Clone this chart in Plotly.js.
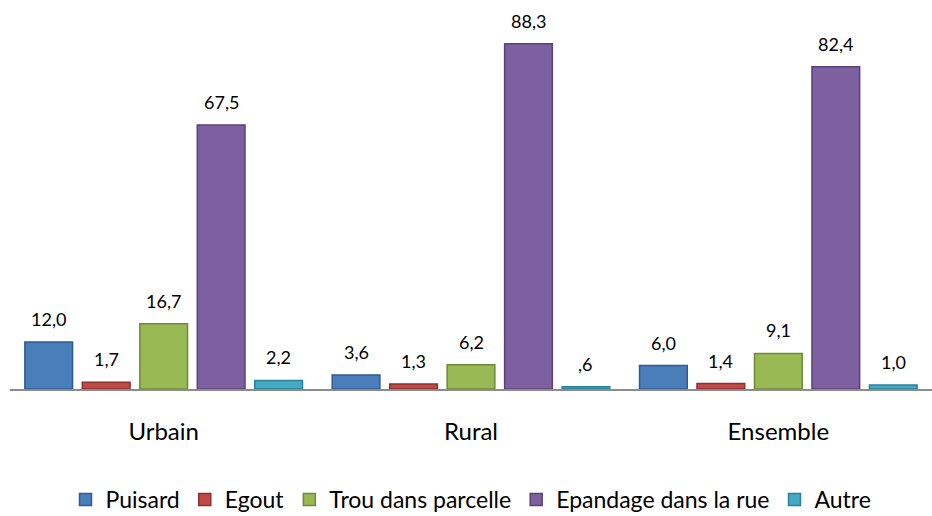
<!DOCTYPE html>
<html>
<head>
<meta charset="utf-8">
<script src="https://cdn.plot.ly/plotly-3.0.1.min.js"></script>
<style>
  html, body { margin: 0; padding: 0; background: #fff; }
  #chart { width: 932px; height: 516px; }
</style>
</head>
<body>
<div id="chart"></div>
<script>
var milieux = ['Urbain', 'Rural', 'Ensemble'];

var puisard = [12.0, 3.6, 6.0];
var egout = [1.7, 1.3, 1.4];
var trou = [16.7, 6.2, 9.1];
var epandage = [67.5, 88.3, 82.4];
var autre = [2.2, 0.6, 1.0];

var noms = ['Puisard', 'Egout', 'Trou dans parcelle', 'Epandage dans la rue', 'Autre'];
var couleurs = ['#4a7ebb', '#be4b48', '#98b954', '#7d60a0', '#46aac5'];
var bords = ['#2f5b8e', '#8c2f2d', '#6f8a36', '#5a4278', '#2b809a'];

var series = [puisard, egout, trou, epandage, autre];

var bargap = 0.065;
var bargroupgap = 0.17;

// format "12,0" and ",6" like the original labels
function fmt(v) {
    var s = v.toFixed(1).replace('.', ',');
    if (s.indexOf('0,') === 0) s = s.substring(1);
    return s;
}

var data = [];
var annotations = [];
for (var i = 0; i < series.length; i++) {
    data.push({
        x: milieux,
        y: series[i],
        name: noms[i],
        type: 'bar',
        marker: {
            color: couleurs[i],
            line: {color: bords[i], width: 1.5}
        },
        hoverinfo: 'none'
    });
    var offset = (i - 2) * (1 - bargap) / series.length;
    for (var j = 0; j < milieux.length; j++) {
        annotations.push({
            x: j + offset,
            y: series[i][j],
            xref: 'x',
            yref: 'y',
            text: fmt(series[i][j]),
            showarrow: false,
            yanchor: 'bottom',
            yshift: 10,
            font: {family: 'Lato', size: 18, color: '#000'}
        });
    }
}

var layout = {
    width: 932,
    height: 516,
    margin: {l: 10, r: 0, t: 37, b: 127},
    paper_bgcolor: '#fff',
    plot_bgcolor: '#fff',
    barmode: 'group',
    bargap: bargap,
    bargroupgap: bargroupgap,
    font: {family: 'Lato', color: '#000'},
    xaxis: {
        type: 'category',
        showline: true,
        linecolor: '#8c8c8c',
        linewidth: 2,
        ticks: 'outside',
        ticklen: 20,
        tickcolor: 'rgba(0,0,0,0)',
        tickfont: {family: 'Lato', size: 24, color: '#000'}
    },
    yaxis: {
        range: [0, 90],
        visible: false,
        showgrid: false,
        zeroline: false
    },
    showlegend: true,
    legend: {
        orientation: 'h',
        x: 0.5,
        xanchor: 'center',
        y: 0.032,
        yref: 'container',
        yanchor: 'middle',
        font: {family: 'Lato', size: 23, color: '#000'},
        itemwidth: 30
    },
    annotations: annotations
};

Plotly.newPlot('chart', data, layout, {displayModeBar: false, staticPlot: true});
</script>
</body>
</html>
